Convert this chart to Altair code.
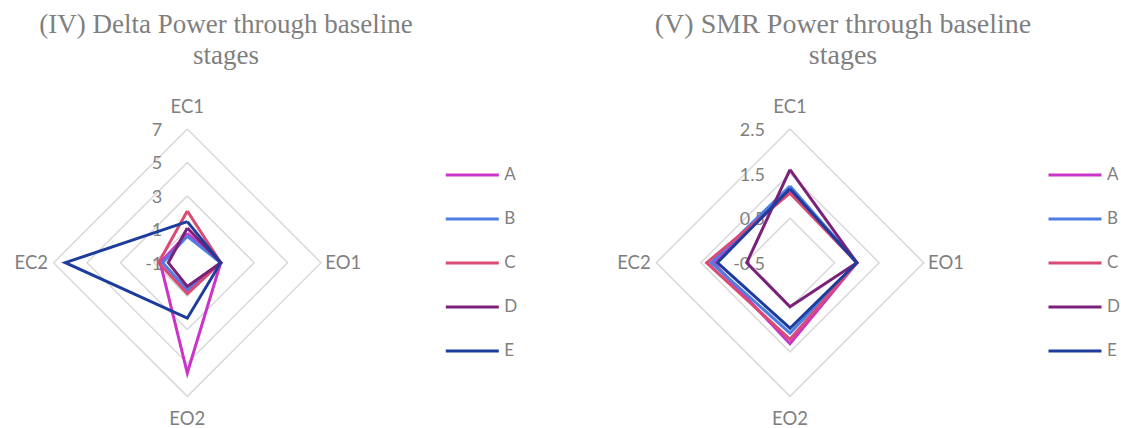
import altair as alt
import pandas as pd

# Stages run clockwise from the top of each radar
stages = ["EC1", "EO1", "EO2", "EC2"]
groups = ["A", "B", "C", "D", "E"]
group_colors = ["#C935C9", "#4C7EE3", "#D84B74", "#7B2179", "#1D3C9B"]

# (IV) Delta power, one value per stage
delta_a = [0.75, 1.00, 5.60, 0.62]
delta_b = [0.58, 1.00, 0.64, 0.47]
delta_c = [2.09, 1.00, 0.85, 0.72]
delta_d = [1.08, 1.00, 0.42, 0.14]
delta_e = [1.46, 1.00, 2.32, 6.30]
delta_ticks = [-1, 1, 3, 5, 7]

# (V) SMR power, one value per stage
smr_a = [1.10, 1.00, 1.32, 1.22]
smr_b = [1.22, 1.00, 1.08, 1.27]
smr_c = [1.06, 1.00, 1.22, 1.37]
smr_d = [1.59, 1.00, 0.49, 0.47]
smr_e = [1.16, 1.00, 0.97, 1.13]
smr_ticks = [-0.5, 0.5, 1.5, 2.5]

HEIGHT = 428
CY = 262.7          # radar centre, from top
RADIUS_PX = 133.7   # pixels for the full radial range
GRID = "#D9D9D9"
TEXT = "#7F7F7F"
SANS = "Lato"
SERIF = "Liberation Serif"


def polar(df_chart, lo, hi, radial="value", scale=1.0):
    span = hi - lo
    return df_chart.transform_calculate(
        r=f"{scale} * (datum.{radial} - ({lo})) / {span}",
    ).transform_calculate(
        x="datum.r * sin(datum.k * PI / 2)",
        y="datum.r * cos(datum.k * PI / 2)",
    )


def radar(series, ticks, title, width, cx, title_x, title_size):
    lo, hi = ticks[0], ticks[-1]
    xs = alt.Scale(domain=[-cx / RADIUS_PX, (width - cx) / RADIUS_PX], nice=False, zero=False)
    ys = alt.Scale(domain=[-(HEIGHT - CY) / RADIUS_PX, CY / RADIUS_PX], nice=False, zero=False)
    X = alt.X("x:Q", scale=xs, axis=None)
    Y = alt.Y("y:Q", scale=ys, axis=None)

    rows = []
    for g, vals in zip(groups, series):
        closed = list(vals) + [vals[0]]
        for k, v in enumerate(closed):
            rows.append({"group": g, "k": k, "stage": stages[k % 4], "value": v})
    data = pd.DataFrame(rows)

    grid = pd.DataFrame(
        [{"level": t, "k": k} for t in ticks[1:] for k in range(5)]
    )
    tick_labels = pd.DataFrame(
        {"level": ticks, "label": [f"{t:g}" for t in ticks], "k": [0] * len(ticks)}
    )
    cats = pd.DataFrame({"stage": stages, "k": list(range(4)), "level": [hi] * 4})

    grid_layer = polar(alt.Chart(grid), lo, hi, radial="level").mark_line(
        color=GRID, strokeWidth=1.5
    ).encode(x=X, y=Y, detail="level:N", order="k:Q")

    tick_layer = polar(alt.Chart(tick_labels), lo, hi, radial="level").mark_text(
        align="right", baseline="middle", dx=-25, dy=2,
        font=SANS, fontSize=18, color=TEXT
    ).encode(x=X, y=Y, text="label:N")

    cat_layer = polar(alt.Chart(cats), lo, hi, radial="level", scale=1.167).mark_text(
        align="center", baseline="middle", font=SANS, fontSize=18.5, color=TEXT
    ).encode(x=X, y=Y, text="stage:N")

    lines = polar(alt.Chart(data), lo, hi).mark_line(strokeWidth=3).encode(
        x=X, y=Y, order="k:Q",
        color=alt.Color(
            "group:N",
            scale=alt.Scale(domain=groups, range=group_colors),
            legend=alt.Legend(
                title=None, orient="none", legendX=cx + 257, legendY=147,
                symbolType="stroke", symbolSize=2809, symbolStrokeWidth=3,
                labelFont=SANS, labelFontSize=17, labelColor=TEXT,
                labelOffset=4, rowPadding=8, padding=0,
            ),
        ),
    )

    title_layer = alt.Chart(pd.DataFrame({"t": [title]})).mark_text(
        align="center", baseline="alphabetic", lineBreak="\n", lineHeight=31,
        font=SERIF, fontSize=title_size, color=TEXT
    ).encode(x=alt.value(title_x), y=alt.value(33), text="t:N")

    return alt.layer(grid_layer, tick_layer, cat_layer, lines, title_layer).properties(
        width=width, height=HEIGHT
    )


left = radar(
    [delta_a, delta_b, delta_c, delta_d, delta_e], delta_ticks,
    "(IV) Delta Power through baseline\nstages", 560, 187.3, 226, 27,
)
right = radar(
    [smr_a, smr_b, smr_c, smr_d, smr_e], smr_ticks,
    "(V) SMR Power through baseline\nstages", 561, 230, 283, 28,
)

chart = alt.hconcat(left, right, spacing=0).resolve_scale(
    x="independent", y="independent", color="independent"
).properties(
    padding=0, background="white"
).configure_view(stroke=None)

chart.save("out.html", embed_options={"renderer": "svg", "actions": False})
